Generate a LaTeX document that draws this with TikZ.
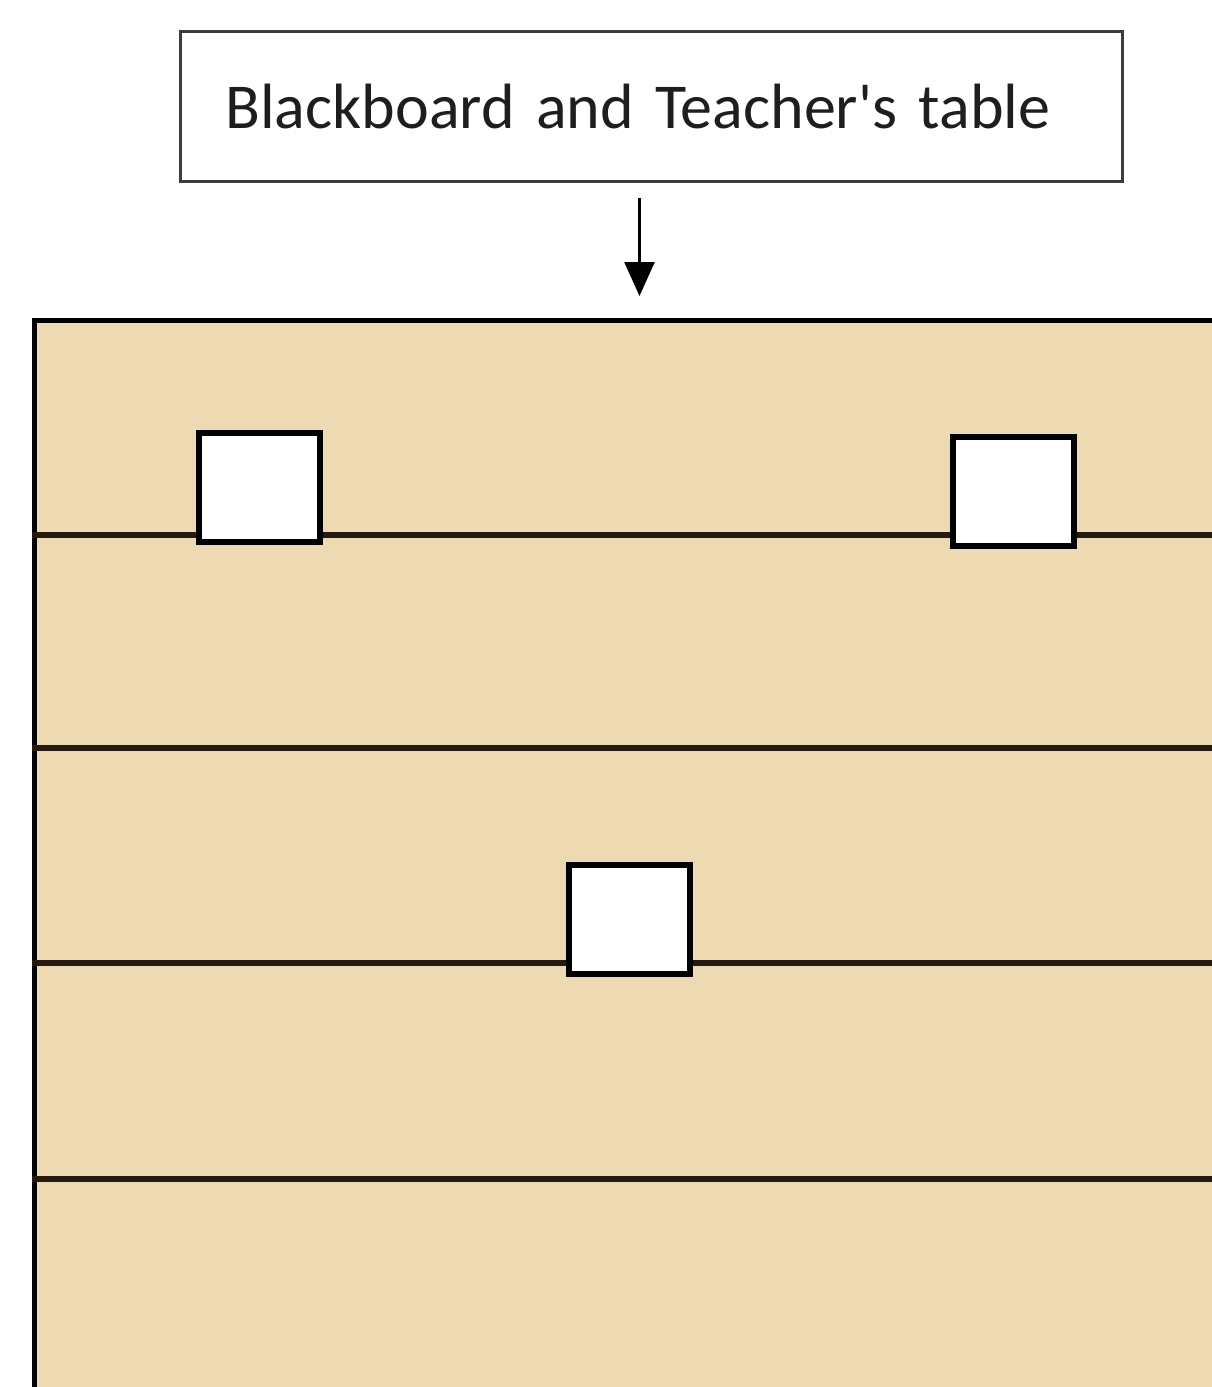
\documentclass[tikz,border=0pt]{standalone}
\usepackage{fontspec}
\setmainfont{Carlito}
\usetikzlibrary{arrows.meta,positioning}
\definecolor{floortan}{HTML}{EDD9B2}
\definecolor{edgegray}{HTML}{3C3C3C}
\definecolor{ink}{HTML}{1E1E1E}
\definecolor{rowline}{HTML}{241A12}
\newcommand{\boardfont}{\fontsize{64}{76}\selectfont}
\tikzset{
  every node/.style={font=\boardfont,text=ink},
  label box/.style={draw=edgegray,line width=3pt,fill=white,minimum width=942pt,
                    minimum height=150pt,text width=852pt,inner xsep=45pt,align=left},
  floorplan/.style={draw=black,line width=5pt,fill=floortan,inner sep=0pt,
                    minimum width=1210pt,minimum height=1100pt,anchor=north west},
  seat/.style={draw=black,line width=6pt,fill=white,inner sep=0pt,
               minimum width=121pt,minimum height=109pt},
  row/.style={line width=6pt,draw=rowline},
  pointer/.style={-{Triangle[length=34pt,width=30pt]},line width=2.5pt,draw=black},
}
\begin{document}
\begin{tikzpicture}[x=1pt,y=-1pt]
  \useasboundingbox (0,0) rectangle (1212,1387);
  \clip (0,0) rectangle (1212,1387);
  \fill[white] (0,0) rectangle (1212,1387);

  % ---------- label and floor ----------
  \node[label box] (board) at (651.5,106.5) {Blackboard and Teacher\textquotesingle s table};
  \node[floorplan] (floor) at (32,318) {};
  \draw[pointer,shorten <=15pt,shorten >=22pt] (floor.north |- board.south) -- (floor.north);

  % ---------- rows of benches ----------
  \foreach \y in {535,748,963,1179}
    \draw[row] (floor.west |- 0,\y) -- (floor.east |- 0,\y);

  % ---------- seats ----------
  \node[seat] (seatL) at (259.5,487.5) {};
  \node[seat] (seatR) at (1013,491) {};
  \node[seat] (seatC) at (629,919.5) {};
\end{tikzpicture}
\end{document}
